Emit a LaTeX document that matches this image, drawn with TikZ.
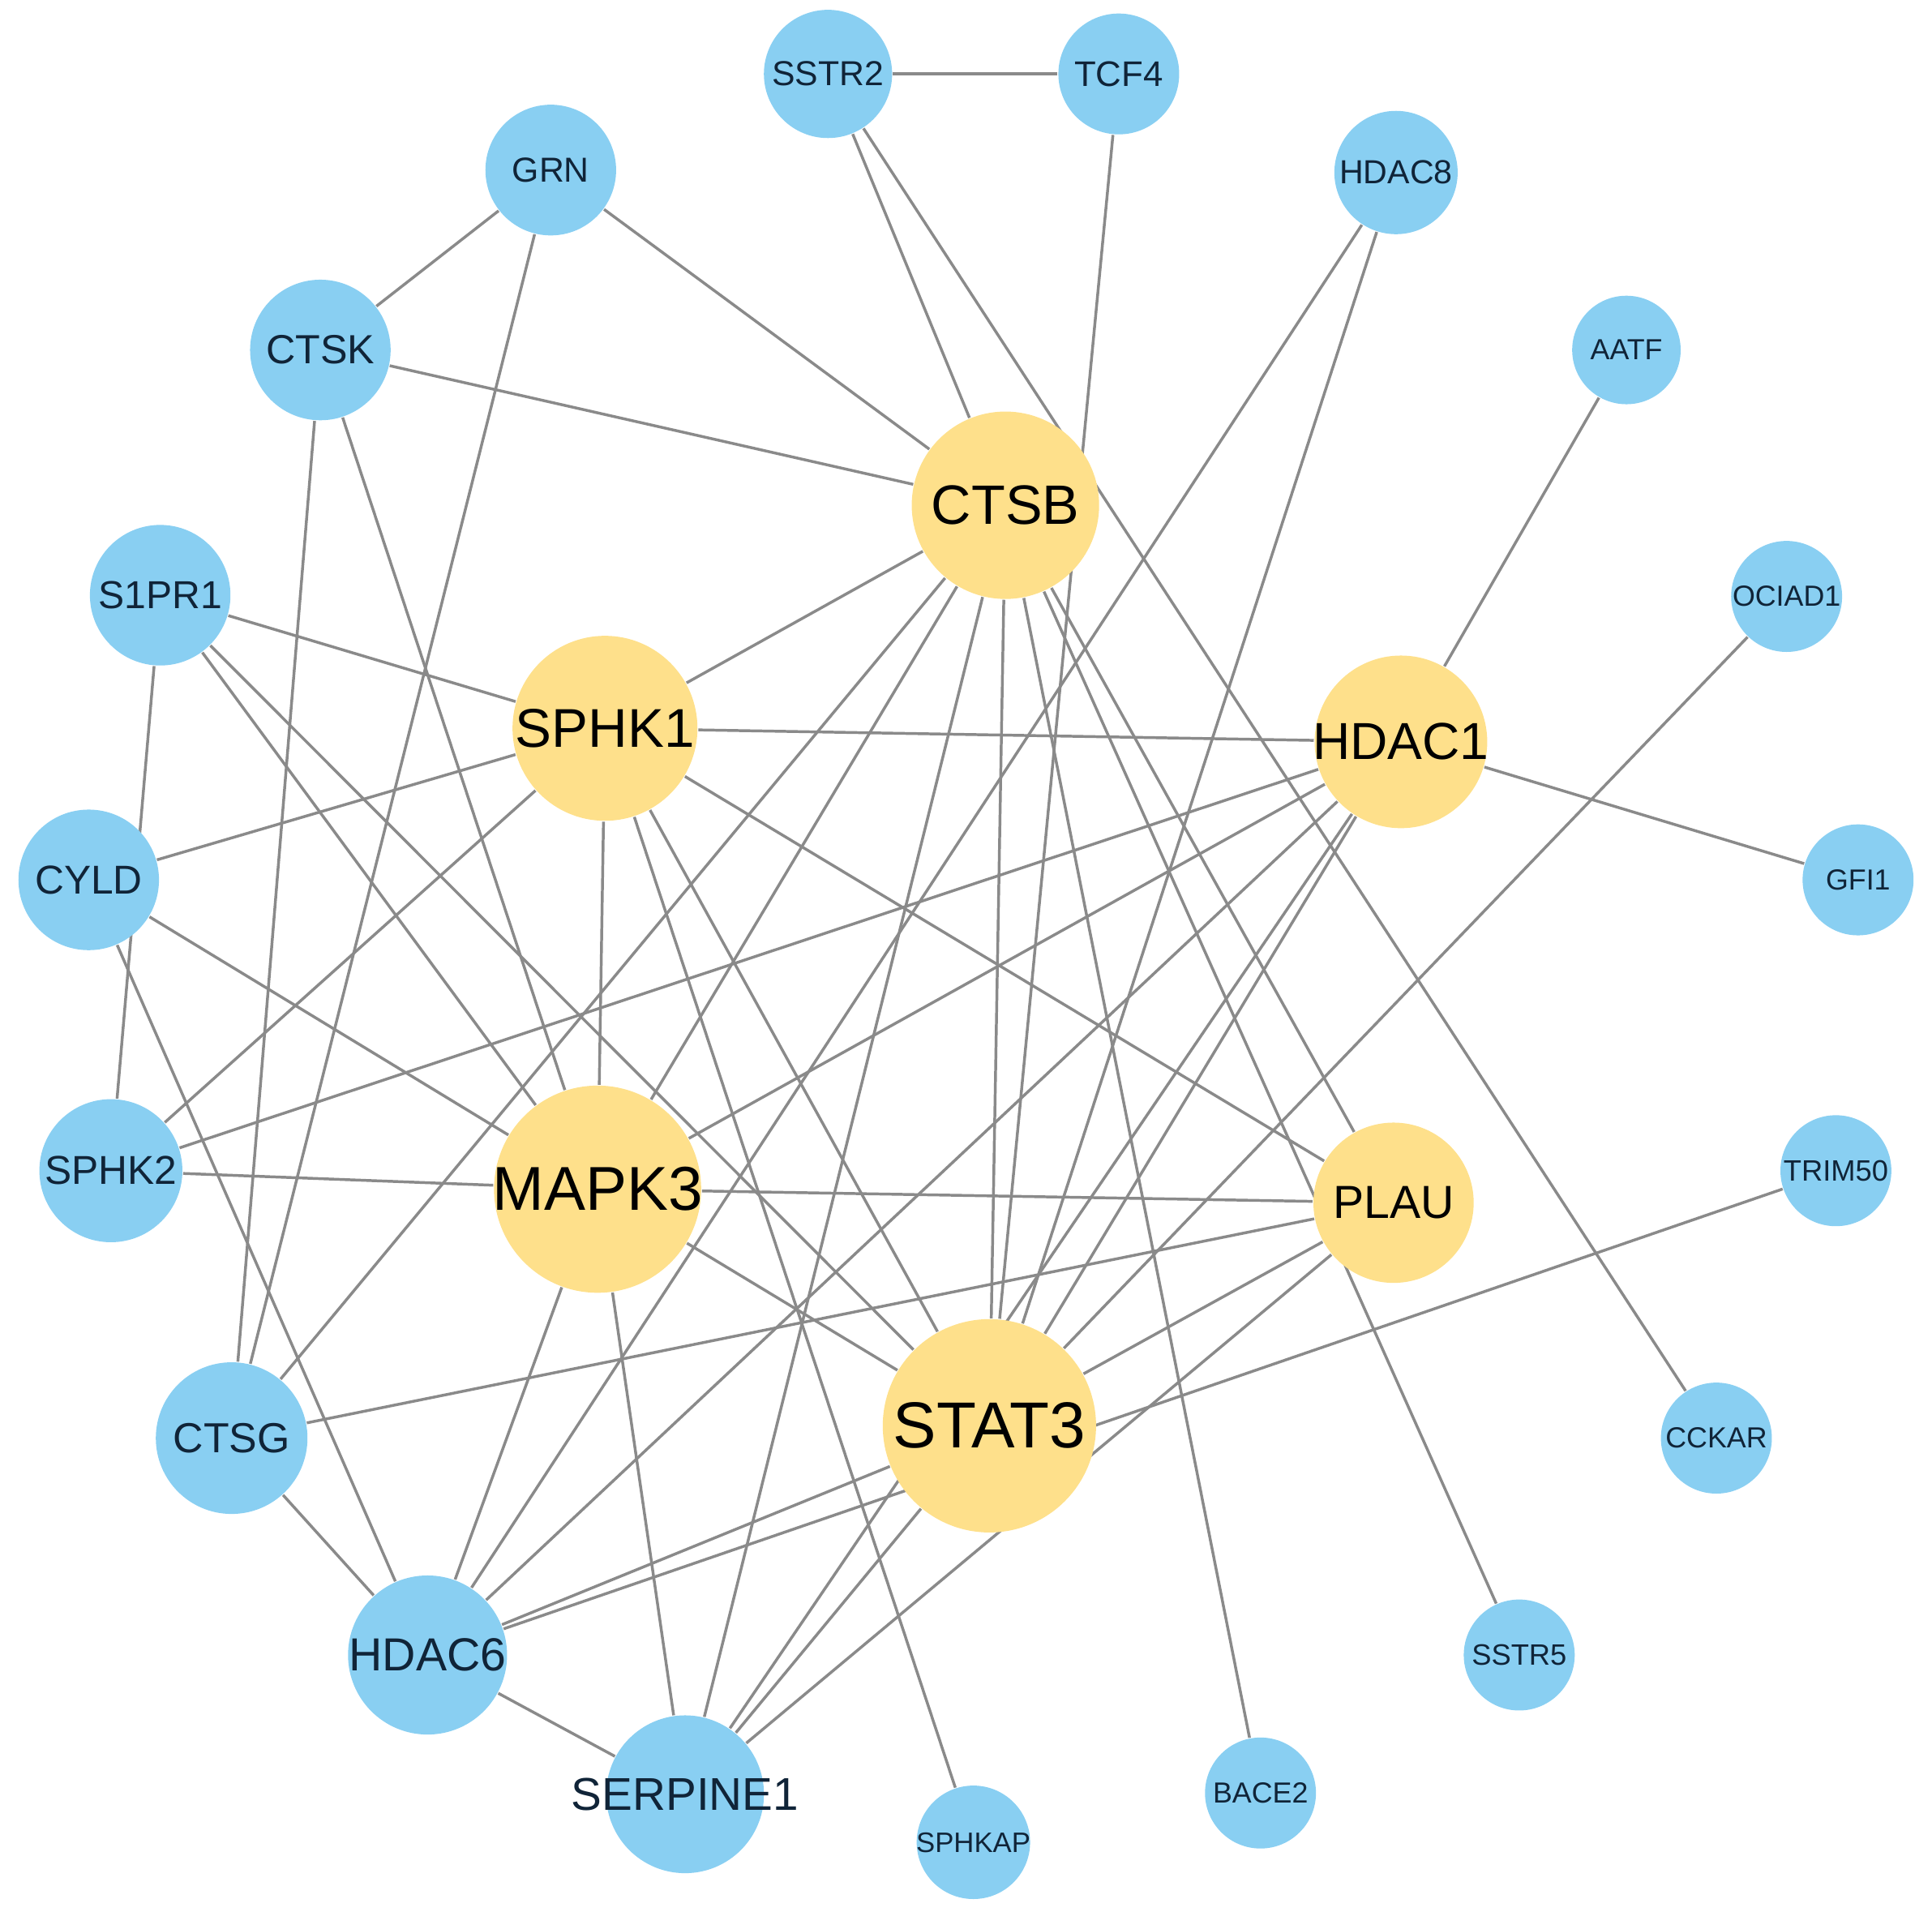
\documentclass[tikz,border=0pt]{standalone}
\usepackage{fontspec}
\setmainfont{Liberation Sans}
\usepackage{xcolor}
\usepackage{tikz}
\usetikzlibrary{backgrounds}
\definecolor{geneblue}{RGB}{137,207,242}
\definecolor{hubyellow}{RGB}{254,224,139}
\definecolor{linkgray}{RGB}{138,138,138}
\definecolor{labelnavy}{RGB}{16,36,56}
\newcommand{\gsize}[1]{\fontsize{#1}{#1}\selectfont}
\newcommand{\glabel}[1]{\makebox[0pt]{#1}}

\begin{document}
\begin{tikzpicture}[x=0.01cm,y=-0.01cm]
\tikzstyle{gene}=[circle,fill=geneblue,inner sep=0pt,text=labelnavy]
\tikzstyle{hub}=[circle,fill=hubyellow,inner sep=0pt,text=black]
\tikzstyle{link}=[draw=linkgray,line width=0.65pt]
\useasboundingbox (0,0) rectangle (1568,1551);
\node[hub,minimum size=1.52cm,font=\gsize{12.8}](CTSB) at (816,410){\glabel{CTSB}};
\node[hub,minimum size=1.50cm,font=\gsize{12.6}](SPHK1) at (491,591){\glabel{SPHK1}};
\node[hub,minimum size=1.40cm,font=\gsize{12}](HDAC1) at (1137,602){\glabel{HDAC1}};
\node[hub,minimum size=1.68cm,font=\gsize{14.3}](MAPK3) at (485,965){\glabel{MAPK3}};
\node[hub,minimum size=1.30cm,font=\gsize{10.7}](PLAU) at (1131,976){\glabel{PLAU}};
\node[hub,minimum size=1.73cm,font=\gsize{15}](STAT3) at (803,1157){\glabel{STAT3}};
\node[gene,minimum size=1.04cm,font=\gsize{8}](SSTR2) at (672,60){\glabel{SSTR2}};
\node[gene,minimum size=0.98cm,font=\gsize{8.2}](TCF4) at (908,60){\glabel{TCF4}};
\node[gene,minimum size=1.06cm,font=\gsize{8}](GRN) at (447,138){\glabel{GRN}};
\node[gene,minimum size=1.00cm,font=\gsize{7.7}](HDAC8) at (1133,140){\glabel{HDAC8}};
\node[gene,minimum size=1.14cm,font=\gsize{9.4}](CTSK) at (260,284){\glabel{CTSK}};
\node[gene,minimum size=0.88cm,font=\gsize{6.7}](AATF) at (1320,284){\glabel{AATF}};
\node[gene,minimum size=1.14cm,font=\gsize{9}](S1PR1) at (130,483){\glabel{S1PR1}};
\node[gene,minimum size=0.90cm,font=\gsize{6.7}](OCIAD1) at (1450,484){\glabel{OCIAD1}};
\node[gene,minimum size=1.14cm,font=\gsize{9.3}](CYLD) at (72,714){\glabel{CYLD}};
\node[gene,minimum size=0.90cm,font=\gsize{6.7}](GFI1) at (1508,714){\glabel{GFI1}};
\node[gene,minimum size=1.16cm,font=\gsize{9.3}](SPHK2) at (90,950){\glabel{SPHK2}};
\node[gene,minimum size=0.90cm,font=\gsize{6.8}](TRIM50) at (1490,950){\glabel{TRIM50}};
\node[gene,minimum size=1.23cm,font=\gsize{9.7}](CTSG) at (188,1167){\glabel{CTSG}};
\node[gene,minimum size=0.90cm,font=\gsize{6.7}](CCKAR) at (1393,1167){\glabel{CCKAR}};
\node[gene,minimum size=1.29cm,font=\gsize{10.7}](HDAC6) at (347,1343){\glabel{HDAC6}};
\node[gene,minimum size=0.90cm,font=\gsize{6.8}](SSTR5) at (1233,1343){\glabel{SSTR5}};
\node[gene,minimum size=1.28cm,font=\gsize{10.6}](SERPINE1) at (556,1456){\glabel{SERPINE1}};
\node[gene,minimum size=0.90cm,font=\gsize{6.7}](BACE2) at (1023,1455){\glabel{BACE2}};
\node[gene,minimum size=0.92cm,font=\gsize{6.5}](SPHKAP) at (790,1495){\glabel{SPHKAP}};
\begin{pgfonlayer}{background}
\path[link]
	(SSTR2) edge (TCF4)
	(SSTR2) edge (CTSB)
	(SSTR2) edge (CCKAR)
	(TCF4) edge (STAT3)
	(GRN) edge (CTSK)
	(GRN) edge (CTSB)
	(GRN) edge (CTSG)
	(CTSK) edge (CTSB)
	(CTSK) edge (CTSG)
	(CTSK) edge (MAPK3)
	(HDAC8) edge (HDAC6)
	(HDAC8) edge (STAT3)
	(AATF) edge (HDAC1)
	(OCIAD1) edge (STAT3)
	(GFI1) edge (HDAC1)
	(TRIM50) edge (HDAC6)
	(SSTR5) edge (CTSB)
	(BACE2) edge (CTSB)
	(SPHKAP) edge (SPHK1)
	(S1PR1) edge (SPHK1)
	(S1PR1) edge (SPHK2)
	(S1PR1) edge (MAPK3)
	(S1PR1) edge (STAT3)
	(CYLD) edge (SPHK1)
	(CYLD) edge (MAPK3)
	(CYLD) edge (HDAC6)
	(SPHK2) edge (SPHK1)
	(SPHK2) edge (HDAC1)
	(SPHK2) edge (MAPK3)
	(CTSG) edge (CTSB)
	(CTSG) edge (PLAU)
	(CTSG) edge (HDAC6)
	(CTSB) edge (SPHK1)
	(CTSB) edge (MAPK3)
	(CTSB) edge (SERPINE1)
	(CTSB) edge (STAT3)
	(CTSB) edge (PLAU)
	(SPHK1) edge (HDAC1)
	(SPHK1) edge (MAPK3)
	(SPHK1) edge (STAT3)
	(SPHK1) edge (PLAU)
	(HDAC1) edge (MAPK3)
	(HDAC1) edge (HDAC6)
	(HDAC1) edge (SERPINE1)
	(HDAC1) edge (STAT3)
	(MAPK3) edge (PLAU)
	(MAPK3) edge (STAT3)
	(MAPK3) edge (HDAC6)
	(MAPK3) edge (SERPINE1)
	(PLAU) edge (STAT3)
	(PLAU) edge (SERPINE1)
	(STAT3) edge (HDAC6)
	(STAT3) edge (SERPINE1)
	(HDAC6) edge (SERPINE1);
\end{pgfonlayer}
\end{tikzpicture}
\end{document}
